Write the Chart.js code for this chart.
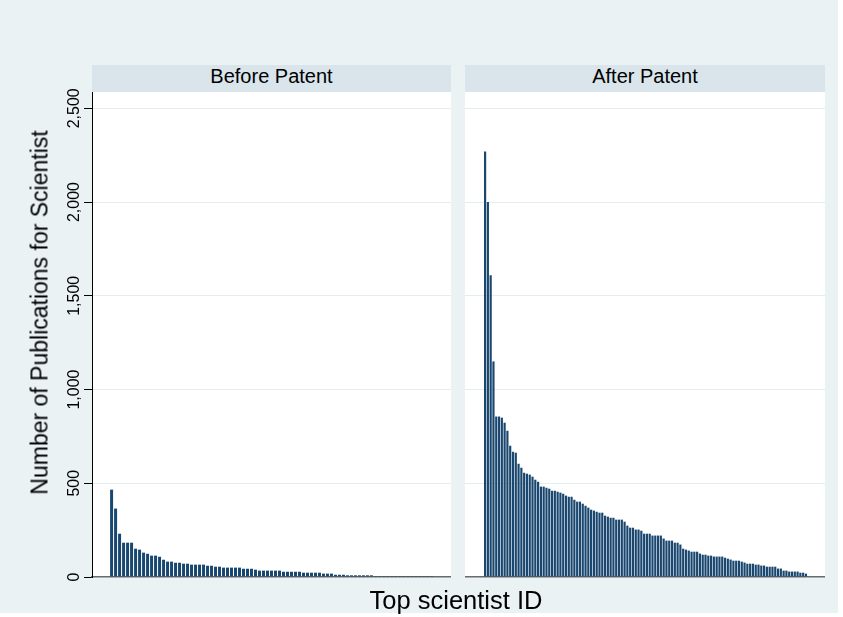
<!DOCTYPE html>
<html>
<head>
<meta charset="utf-8">
<script src="https://cdn.jsdelivr.net/npm/chart.js@4.4.1/dist/chart.umd.min.js"></script>
<style>
  html, body { margin: 0; padding: 0; width: 843px; height: 617px; background: #ffffff; overflow: hidden; }
  #graph { position: absolute; left: 0; top: 0; width: 838px; height: 613px; background: #eaf2f3; }
  .strip { position: absolute; top: 65px; height: 27px; line-height: 27px; background: #d9e5eb; color: #000;
           font: 20px "Liberation Sans", Arial, sans-serif; text-align: center; }
  canvas { position: absolute; }
  #ytitle { position: absolute; left: -162px; top: 301px; width: 400px; height: 23px; line-height: 23px;
            font: 23px "Liberation Sans", Arial, sans-serif; color: #000; text-align: center; transform: rotate(-90deg); }
  #xtitle { position: absolute; left: 256px; top: 586px; width: 400px; height: 25px; line-height: 25px;
            font: 25.5px "Liberation Sans", Arial, sans-serif; color: #000; text-align: center; }
</style>
</head>
<body>
<div id="graph">
  <div class="strip" id="stripBefore" style="left:92px;width:359px;"></div>
  <div class="strip" id="stripAfter" style="left:465px;width:360px;"></div>
  <canvas id="before" width="451" height="538" style="left:0;top:62px;"></canvas>
  <canvas id="after" width="360" height="538" style="left:465px;top:62px;"></canvas>
  <div id="ytitle"></div>
  <div id="xtitle"></div>
</div>
<script>
// Panels and axis text
const panelTitles = ['Before Patent', 'After Patent'];
const yAxisTitle = 'Number of Publications for Scientist';
const xAxisTitle = 'Top scientist ID';
const yTicks = [0, 500, 1000, 1500, 2000, 2500];

// Publications per top scientist, sorted from most to fewest, before the patent
const beforePatent = [
  466, 365, 231, 183, 183, 183, 151, 146, 130, 124,
  114, 114, 108, 92, 82, 82, 76, 76, 71, 71,
  66, 66, 66, 66, 60, 60, 55, 55, 50, 50,
  50, 50, 50, 44, 44, 44, 39, 34, 34, 34,
  34, 34, 34, 28, 28, 28, 28, 28, 23, 23,
  23, 23, 23, 18, 18, 18, 12, 12, 12, 9,
  9, 9, 9, 9, 9, 9, 5, 5, 5, 5,
  5, 5, 5, 5, 5, 5, 5, 5, 5, 5,
  5
];

// Publications per top scientist, sorted from most to fewest, after the patent
const afterPatent = [
  2270, 2000, 1610, 1150, 856, 856, 850, 823, 780, 700,
  668, 663, 604, 583, 556, 551, 546, 535, 519, 508,
  482, 482, 476, 471, 460, 460, 455, 450, 444, 434,
  428, 428, 412, 402, 402, 391, 380, 370, 359, 354,
  348, 343, 343, 327, 322, 316, 316, 306, 306, 306,
  295, 274, 263, 263, 253, 253, 247, 231, 231, 231,
  221, 221, 221, 221, 205, 194, 194, 194, 183, 183,
  173, 151, 146, 141, 135, 135, 135, 125, 119, 119,
  114, 114, 109, 109, 109, 109, 103, 98, 93, 87,
  87, 87, 82, 77, 71, 71, 71, 66, 66, 61,
  61, 55, 55, 55, 55, 45, 45, 34, 34, 29,
  29, 29, 29, 23, 23, 18
];

document.getElementById('stripBefore').textContent = panelTitles[0];
document.getElementById('stripAfter').textContent = panelTitles[1];
document.getElementById('ytitle').textContent = yAxisTitle;
document.getElementById('xtitle').textContent = xAxisTitle;

Chart.defaults.font.family = '"Liberation Sans", Arial, sans-serif';

const barColor = '#1a476f';
const gridColor = '#e4edf0';

// White plot region behind the grid and bars
const plotBackground = {
  id: 'plotBackground',
  beforeDraw(chart) {
    const a = chart.chartArea;
    const ctx = chart.ctx;
    ctx.save();
    ctx.fillStyle = '#ffffff';
    ctx.fillRect(a.left, a.top, a.right - a.left, a.bottom - a.top);
    ctx.restore();
  }
};

function panelChart(canvasId, values, withYAxis, xMin, xMax, barPct) {
  const points = values.map((v, i) => ({ x: i, y: v }));
  return new Chart(document.getElementById(canvasId), {
    type: 'bar',
    data: {
      datasets: [{
        data: points,
        backgroundColor: barColor,
        borderWidth: 0,
        barPercentage: barPct,
        categoryPercentage: 1
      }]
    },
    plugins: [plotBackground],
    options: {
      responsive: false,
      animation: false,
      devicePixelRatio: 1,
      layout: { padding: { top: 30, right: 0, bottom: 23, left: 0 } },
      plugins: { legend: { display: false }, tooltip: { enabled: false } },
      scales: {
        x: {
          type: 'linear',
          min: xMin,
          max: xMax,
          offset: false,
          grid: { display: false, drawTicks: false },
          ticks: { display: false },
          border: { display: true, color: '#6a6a6a', width: 1.5 },
          afterFit(scale) { scale.height = 0; }
        },
        y: {
          min: 0,
          max: 2587,
          afterBuildTicks(scale) { scale.ticks = yTicks.map(v => ({ value: v })); },
          grid: {
            color: ctx => (ctx.tick && ctx.tick.value === 0) ? 'rgba(0,0,0,0)' : gridColor,
            lineWidth: 1,
            drawTicks: withYAxis,
            tickLength: 8,
            tickColor: '#000',
            tickWidth: 1
          },
          border: { display: withYAxis, color: '#000', width: 1 },
          ticks: {
            display: withYAxis,
            minRotation: 90,
            maxRotation: 90,
            crossAlign: 'center',
            padding: -10.5,
            color: '#000',
            font: { size: 16 }
          },
          afterFit(scale) { scale.width = withYAxis ? 92 : 0; }
        }
      }
    }
  });
}

panelChart('before', beforePatent, true, -4.9, 84.9, 0.75);
panelChart('after', afterPatent, false, -7.2, 121.83, 0.78);
</script>
</body>
</html>
